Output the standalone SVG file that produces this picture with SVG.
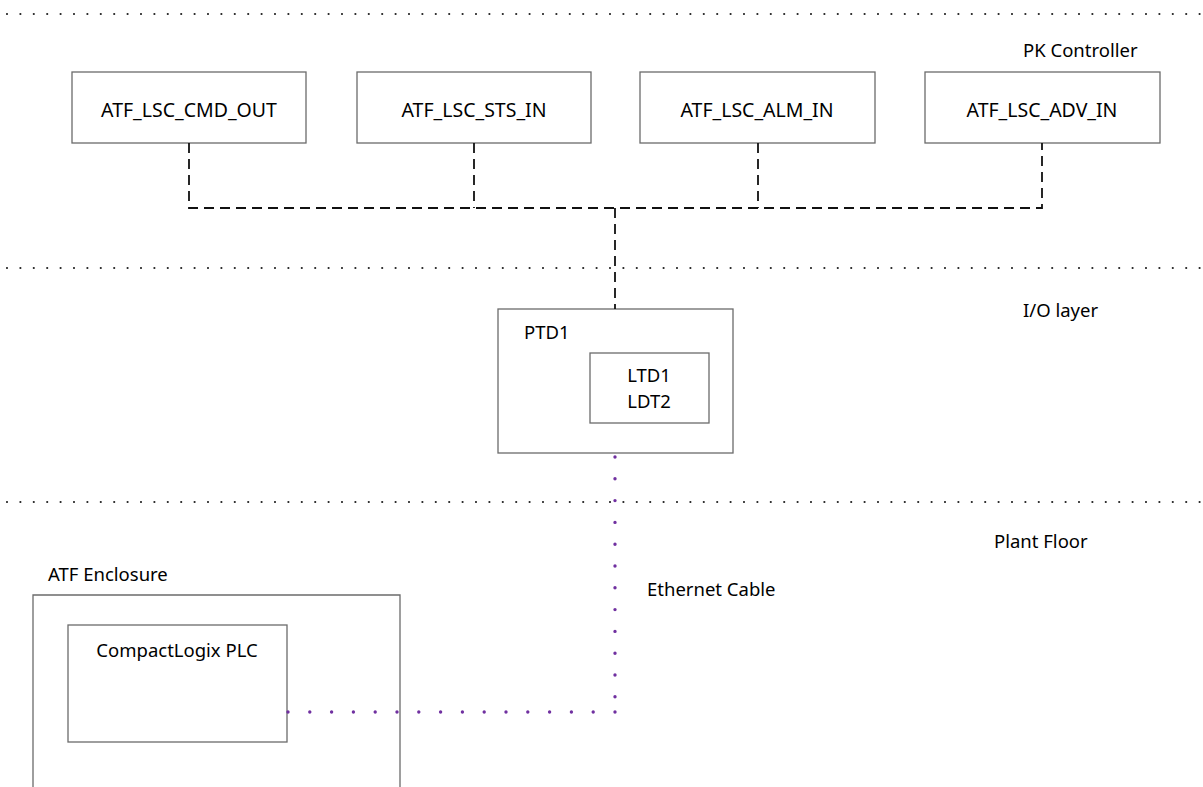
<svg xmlns="http://www.w3.org/2000/svg" width="1203" height="787" viewBox="0 0 1203 787">
<style>
.box{fill:#fff;stroke:#6b6b6b;stroke-width:1.3}
.open{fill:none;stroke:#6b6b6b;stroke-width:1.3}
.t{font-family:"Noto Sans","Open Sans",sans-serif;font-size:18.5px;fill:#000}
.b{font-size:19.5px}
.c{text-anchor:middle}
.sep{stroke:#222;stroke-width:2.2;stroke-linecap:round;stroke-dasharray:0 13.4;fill:none}
.dash{stroke:#111;stroke-width:1.8;stroke-dasharray:10 6;fill:none}
.eth{stroke:#7030A0;stroke-width:3.4;stroke-linecap:round;stroke-dasharray:0 21.8;fill:none}
</style>
<rect width="1203" height="787" fill="#fff"/>
<g id="separators">
<line class="sep" x1="7" y1="14" x2="1200" y2="14"/>
<line class="sep" x1="7" y1="268" x2="1200" y2="268"/>
<line class="sep" x1="7" y1="502" x2="1200" y2="502"/>
</g>
<g id="layer-labels">
<text class="t" x="1023" y="57">PK Controller</text>
<text class="t" x="1023" y="317">I/O layer</text>
<text class="t" x="994" y="548">Plant Floor</text>
</g>
<g id="node-cmd-out">
<rect class="box" x="72" y="72" width="234" height="71"/>
<text class="t b c" x="189" y="117">ATF_LSC_CMD_OUT</text>
</g>
<g id="node-sts-in">
<rect class="box" x="357" y="72" width="234" height="71"/>
<text class="t b c" x="474" y="117">ATF_LSC_STS_IN</text>
</g>
<g id="node-alm-in">
<rect class="box" x="640" y="72" width="235" height="71"/>
<text class="t b c" x="757" y="117">ATF_LSC_ALM_IN</text>
</g>
<g id="node-adv-in">
<rect class="box" x="925" y="72" width="235" height="71"/>
<text class="t b c" x="1042" y="117">ATF_LSC_ADV_IN</text>
</g>
<g id="node-ptd1">
<rect class="box" x="498" y="309" width="235" height="144"/>
<text class="t" x="524" y="339">PTD1</text>
</g>
<g id="node-ltd">
<rect class="box" x="590" y="353" width="119" height="70"/>
<text class="t c" x="649" y="382">LTD1</text>
<text class="t c" x="649" y="408">LDT2</text>
</g>
<g id="node-enclosure">
<path class="open" d="M33,800 V595 H400 V800"/>
<text class="t" x="48" y="581">ATF Enclosure</text>
</g>
<g id="node-plc">
<rect class="box" x="68" y="625" width="219" height="117"/>
<text class="t c" x="177" y="657">CompactLogix PLC</text>
</g>
<g id="connectors">
<path class="dash" d="M189,143 V208 H1042 V143"/>
<line class="dash" x1="474" y1="143" x2="474" y2="208"/>
<line class="dash" x1="758" y1="143" x2="758" y2="208"/>
<line class="dash" x1="615" y1="208" x2="615" y2="309"/>
<line class="eth" x1="615" y1="457" x2="615" y2="698"/>
<line class="eth" x1="615" y1="712" x2="287" y2="712"/>
<text class="t" x="647" y="596">Ethernet Cable</text>
</g>
</svg>
